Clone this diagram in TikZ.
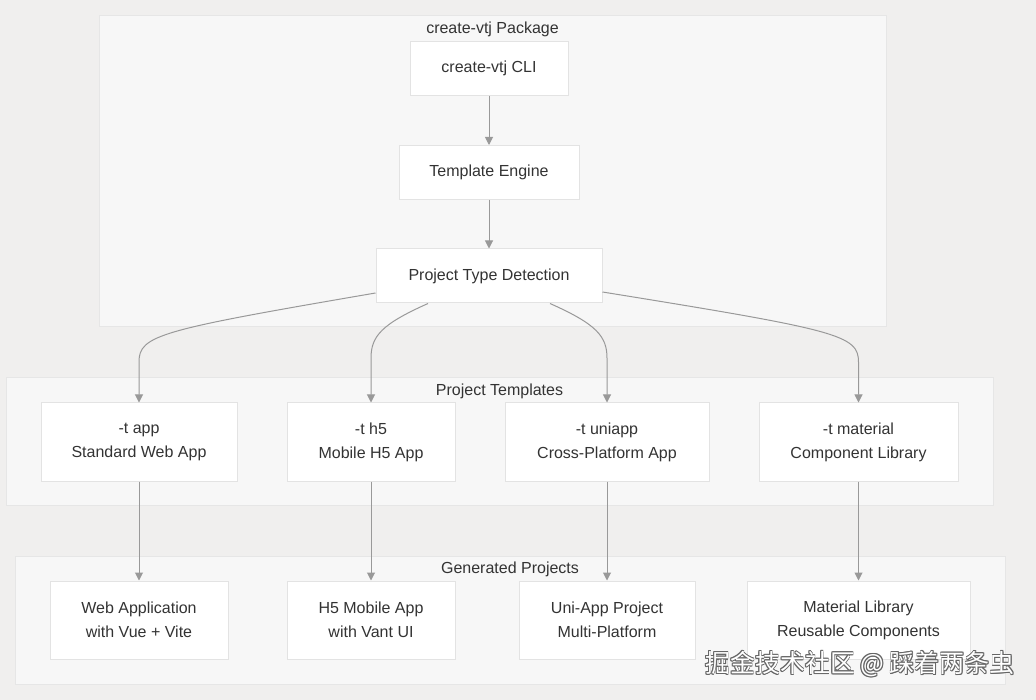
\documentclass[tikz,border=0pt]{standalone}
\usepackage{fontspec}
\setmainfont{Liberation Sans}
\newfontfamily\cjkfont{Noto Sans CJK SC}
\usetikzlibrary{arrows.meta,calc}
\definecolor{bgc}{HTML}{F0EFEE}
\definecolor{clc}{HTML}{F7F7F7}
\definecolor{clb}{HTML}{E6E6E6}
\definecolor{ndb}{HTML}{E3E3E3}
\definecolor{txc}{HTML}{333333}
\definecolor{lnc}{HTML}{999999}
\tikzset{
  box/.style={draw=ndb, line width=1pt, fill=white, inner sep=0pt, align=center,
    text=txc, font=\fontsize{16}{24}\selectfont},
  twoline/.style={execute at begin node={\rule{0pt}{16.5pt}}},
  cluster/.style={draw=clb, line width=1pt, fill=clc},
  cltitle/.style={text=txc, font=\fontsize{16}{19}\selectfont, inner sep=0pt},
  conn/.style={draw=lnc, line width=1pt, -{Triangle[length=8pt,width=8pt]}},
  wm/.style={font=\cjkfont\fontsize{25}{30}\selectfont, inner sep=0pt}
}
\begin{document}
\begin{tikzpicture}[x=1pt,y=-1pt]
\useasboundingbox (0,0) rectangle (1036,700);
\fill[bgc] (0,0) rectangle (1036,700);
% clusters
\draw[cluster] (99,16) rectangle (886,327);
\draw[cluster] (6,378) rectangle (993,505);
\draw[cluster] (15,556) rectangle (1005,684);
\node[cltitle] (t1) at (492.5,29) {create-vtj Package};
\node[cltitle] (t2) at (499.5,391) {Project Templates};
\node[cltitle] (t3) at (510,569) {Generated Projects};
% package nodes
\node[box, minimum width=158pt, minimum height=54pt] (cli) at (489,68.5) {create-vtj CLI};
\node[box, minimum width=180pt, minimum height=54pt] (te) at (489,172.5) {Template Engine};
\node[box, minimum width=226pt, minimum height=54pt] (ptd) at (489,276) {Project Type Detection};
% templates
\node[box, twoline, minimum width=196pt, minimum height=78pt] (app) at (139,442) {-t app\\Standard Web App};
\node[box, twoline, minimum width=168pt, minimum height=78pt] (h5) at (371,442) {-t h5\\Mobile H5 App};
\node[box, twoline, minimum width=204pt, minimum height=78pt] (uni) at (607,442) {-t uniapp\\Cross-Platform App};
\node[box, twoline, minimum width=199pt, minimum height=78pt] (mat) at (858.5,442) {-t material\\Component Library};
% generated
\node[box, twoline, minimum width=178pt, minimum height=78pt] (web) at (139,620) {Web Application\\with Vue + Vite};
\node[box, twoline, minimum width=168pt, minimum height=78pt] (h5m) at (371,620) {H5 Mobile App\\with Vant UI};
\node[box, twoline, minimum width=176pt, minimum height=78pt] (unip) at (607,620) {Uni-App Project\\Multi-Platform};
\node[box, twoline, minimum width=223pt, minimum height=78pt] (mlib) at (858.5,620) {Material Library\\Reusable Components};
% connectors
\draw[conn] (cli.south) -- (te.north);
\draw[conn] (te.south) -- (ptd.north);
\draw[conn] ($(ptd.west)+(0,17)$) .. controls (160,330) and (139,335) .. (139,362) -- (app.north);
\draw[conn] ($(ptd.south)+(-61,0)$) .. controls (382,324) and (371,336) .. (371,358) -- (h5.north);
\draw[conn] ($(ptd.south)+(61,0)$) .. controls (596,324) and (607,336) .. (607,358) -- (uni.north);
\draw[conn] ($(ptd.east)+(0,16)$) .. controls (838,330) and (858.5,335) .. (858.5,362) -- (mat.north);
\draw[conn] (app.south) -- (web.north);
\draw[conn] (h5.south) -- (h5m.north);
\draw[conn] (uni.south) -- (unip.north);
\draw[conn] (mat.south) -- (mlib.north);
% watermark
\foreach \dx/\dy in {-0.9/0,0.9/0,0/-0.9,0/0.9,0.7/0.7,-0.7/-0.7,0.7/-0.7,-0.7/0.7}{
  \node[wm, text=black!60, anchor=center] at ($(860,664)+(\dx,\dy)$) {掘金技术社区 @ 踩着两条虫};
}
\node[wm, text=white, anchor=center] (wmark) at (860,664) {掘金技术社区 @ 踩着两条虫};
\end{tikzpicture}
\end{document}
